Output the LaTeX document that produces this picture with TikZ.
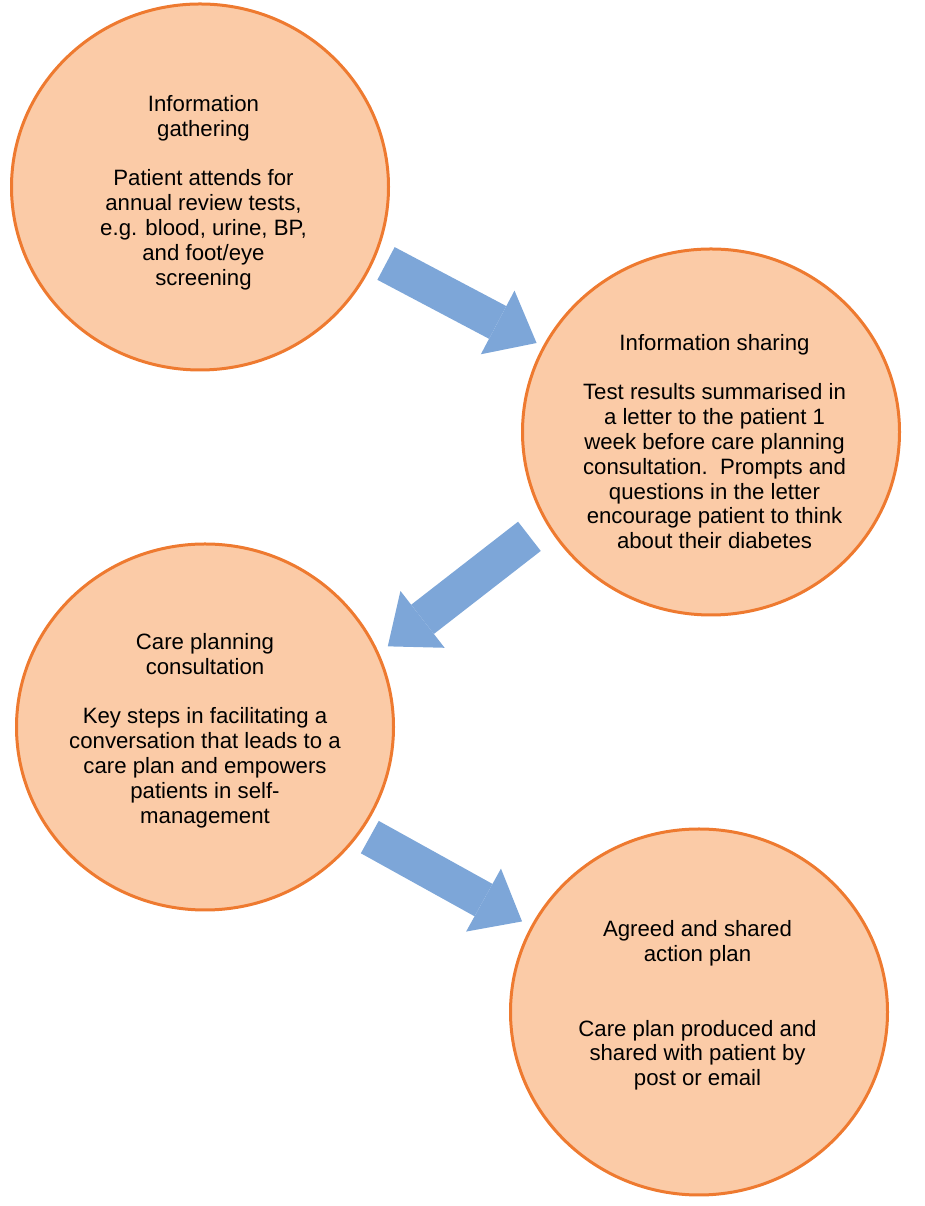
\documentclass[tikz,border=0pt]{standalone}
\usepackage{fontspec}
\setmainfont{Liberation Sans}
\usepackage{tikz}
\usetikzlibrary{arrows.meta}
\usetikzlibrary{shapes.geometric}
\definecolor{peach}{RGB}{251,203,167}
\definecolor{rimorange}{RGB}{238,122,48}
\definecolor{arrowblue}{RGB}{125,166,216}

\begin{document}
\begin{tikzpicture}[line join=miter,x=1pt,y=1pt]
\useasboundingbox (0,0) rectangle (924,1206);
\tikzstyle{stage}= [ellipse, draw=rimorange, fill=peach, line width=3pt, inner sep=0pt, minimum width=377pt, minimum height=366pt];
\tikzstyle{stagetext}= [align=center, inner sep=0pt, font=\fontsize{22.2}{24.8}\selectfont];
\tikzstyle{flow}= [draw=arrowblue, line width=37pt, -{Triangle[length=44pt,width=72pt,line width=0pt]}];
% stages
\node[stage] (gather) at (200,1019) {};
\node[stage] (share) at (711,774) {};
\node[stage] (consult) at (205,479) {};
\node[stage] (plan) at (699,194) {};
% texts
\node[stagetext] (gather-text) at ([shift={(3.5,-5.5)}]gather) {Information\\gathering\\[24.8pt]Patient attends for\\annual review tests,\\e.g. blood, urine, BP,\\and foot/eye\\screening};
\node[stagetext] (share-text) at ([shift={(3.5,-9.5)}]share) {Information sharing\\[24.8pt]Test results summarised in\\a letter to the patient 1\\week before care planning\\consultation.\ \ Prompts and\\questions in the letter\\encourage patient to think\\about their diabetes};
\node[stagetext] (consult-text) at ([shift={(0,-3.5)}]consult) {Care planning\\consultation\\[24.8pt]Key steps in facilitating a\\conversation that leads to a\\care plan and empowers\\patients in self-\\management};
\node[stagetext] (plan-text) at ([shift={(-1.5,6.5)}]plan) {Agreed and shared\\action plan\\[49.6pt]Care plan produced and\\shared with patient by\\post or email};
% arrows
\draw[flow, shorten <=12pt, shorten >=7pt] (gather.-22) -- (share.153);
\draw[flow, shorten <=21pt, shorten >=11pt] (share.209) -- (consult.23);
\draw[flow, shorten <=10pt, shorten >=10pt] (consult.-34) -- (plan.153);
\end{tikzpicture}
\end{document}
